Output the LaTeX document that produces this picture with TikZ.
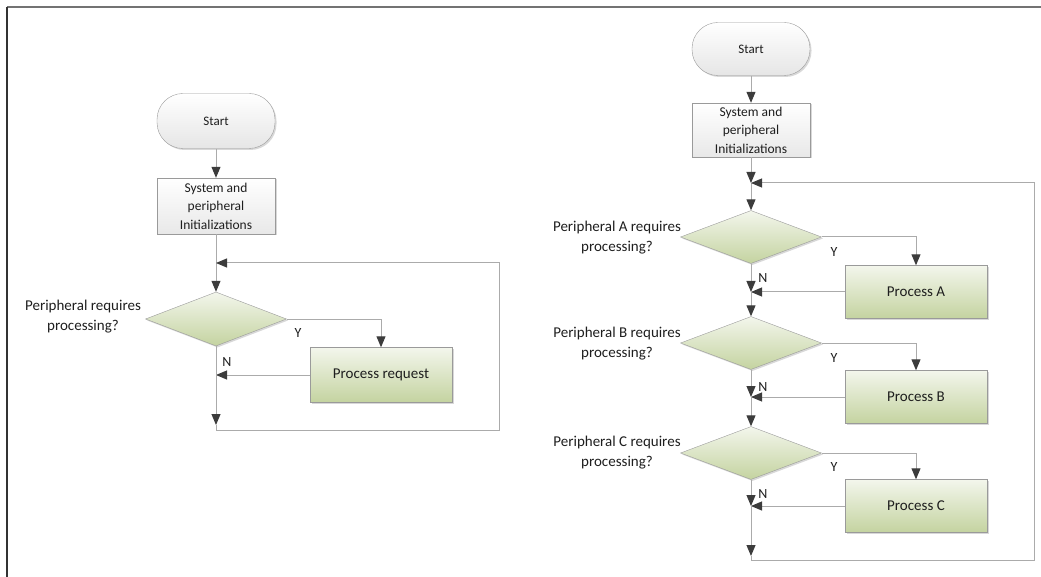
\documentclass[tikz,border=0pt]{standalone}
\usepackage{fontspec}
\setmainfont{Carlito}
\usetikzlibrary{shapes.geometric,arrows.meta,shadows}
\definecolor{linegray}{HTML}{ABABAB}
\definecolor{tipgray}{HTML}{3C3C3C}
\definecolor{bordergray}{HTML}{9A9A9A}
\definecolor{greentop}{HTML}{F3F6EC}
\definecolor{greenbot}{HTML}{C4D3A0}
\definecolor{txt}{HTML}{1E1E1E}
\tikzset{
  shad/.style={drop shadow={shadow xshift=1.5pt,shadow yshift=-1.5pt,fill=black!30,opacity=0.5}},
  terminal/.style={rectangle,rounded corners=26pt,minimum width=118pt,minimum height=55pt,inner sep=0pt,
    draw=bordergray,top color=white,bottom color=black!10,shad,font=\fontsize{13}{15}\selectfont,text=txt},
  initbox/.style={rectangle,minimum width=118pt,minimum height=56pt,inner sep=0pt,align=center,
    draw=bordergray,top color=white,bottom color=black!9,shad,font=\fontsize{13.5}{18.5}\selectfont,text=txt},
  decision/.style={diamond,minimum width=141pt,minimum height=54pt,inner sep=0pt,
    draw=bordergray,top color=greentop,bottom color=greenbot,shad},
  procbox/.style={rectangle,minimum width=142pt,minimum height=55pt,inner sep=0pt,
    draw=bordergray,top color=greentop,bottom color=greenbot,shad,font=\fontsize{15}{17}\selectfont,text=txt},
  qlabel/.style={align=center,font=\fontsize{15}{20}\selectfont,text=txt,inner sep=0pt},
  yn/.style={font=\fontsize{14}{15}\selectfont,text=txt,inner sep=0pt},
  arr/.style={draw=linegray,line width=1pt,-{Triangle[length=11pt,width=9pt,color=tipgray]}},
}
\begin{document}
\begin{tikzpicture}[x=1pt,y=-1pt]
\useasboundingbox (0,0) rectangle (1041,577);
% frame
\draw[line width=1.6pt,draw=black!55] (7,7) -- (1041,7);
\draw[line width=1.6pt,draw=black!80] (7,7) -- (7,577);

% ---------- left flowchart ----------
\node[terminal] (s1) at (216,121) {Start};
\node[initbox] (i1) at (216,206) {System and\\peripheral\\Initializations};
\node[decision] (d1) at (216,319) {};
\node[qlabel] (q1) at (83,317) {Peripheral requires\\processing?};
\node[procbox] (p1) at (381,375) {Process request};
\coordinate (j1) at (216,263);
\coordinate (y1) at (381,319);
\coordinate (n1) at (216,375);
\coordinate (b1) at (216,425);
\coordinate (bc1) at (216,430);
\coordinate (br1) at (499,430);
\coordinate (tr1) at (499,263);
\node[yn] (ly1) at (298,333) {Y};
\node[yn] (ln1) at (227,362) {N};

\draw[arr] (s1) -- (i1);
\draw[arr] (i1) -- (d1);
\draw[arr] (d1.east) -- (y1) -- (p1);
\draw[arr] (p1) -- (n1);
\draw[arr] (d1.south) -- (b1);
\draw[arr] (b1) -- (bc1) -- (br1) -- (tr1) -- (j1);

% ---------- right flowchart ----------
\node[terminal,minimum height=53pt] (s2) at (751,49) {Start};
\node[initbox,minimum height=54pt] (i2) at (751,130) {System and\\peripheral\\Initializations};
\coordinate (j2) at (751,183);

\node[decision,minimum height=53pt] (dA) at (751,237) {};
\node[qlabel] (qA) at (617,238) {Peripheral A requires\\processing?};
\node[procbox,minimum height=53pt] (pA) at (916,292) {Process A};
\coordinate (yA) at (916,237);
\coordinate (nA) at (751,292);

\node[decision,minimum height=53pt] (dB) at (751,343) {};
\node[qlabel] (qB) at (617,344) {Peripheral B requires\\processing?};
\node[procbox,minimum height=53pt] (pB) at (916,397) {Process B};
\coordinate (yB) at (916,343);
\coordinate (nB) at (751,397);

\node[decision,minimum height=53pt] (dC) at (751,453) {};
\node[qlabel] (qC) at (617,453) {Peripheral C requires\\processing?};
\node[procbox,minimum height=53pt] (pC) at (916,506) {Process C};
\coordinate (yC) at (916,453);
\coordinate (nC) at (751,506);

\coordinate (b2) at (751,556);
\coordinate (bc2) at (751,560);
\coordinate (br2) at (1034,560);
\coordinate (tr2) at (1034,183);

\node[yn] (lyA) at (834,252) {Y};
\node[yn] (lyB) at (834,358) {Y};
\node[yn] (lyC) at (834,467) {Y};
\node[yn] (lnA) at (763,278) {N};
\node[yn] (lnB) at (763,387) {N};
\node[yn] (lnC) at (763,494) {N};

\draw[arr] (s2) -- (i2);
\draw[arr] (i2) -- (j2);
\draw[arr] (j2) -- (dA);
\draw[arr] (dA.east) -- (yA) -- (pA);
\draw[arr] (pA) -- (nA);
\draw[arr] (dA.south) -- (nA);
\draw[arr] (nA) -- (dB);
\draw[arr] (dB.east) -- (yB) -- (pB);
\draw[arr] (pB) -- (nB);
\draw[arr] (dB.south) -- (nB);
\draw[arr] (nB) -- (dC);
\draw[arr] (dC.east) -- (yC) -- (pC);
\draw[arr] (pC) -- (nC);
\draw[arr] (dC.south) -- (nC);
\draw[arr] (nC) -- (b2);
\draw[arr] (b2) -- (bc2) -- (br2) -- (tr2) -- (j2);
\end{tikzpicture}
\end{document}
